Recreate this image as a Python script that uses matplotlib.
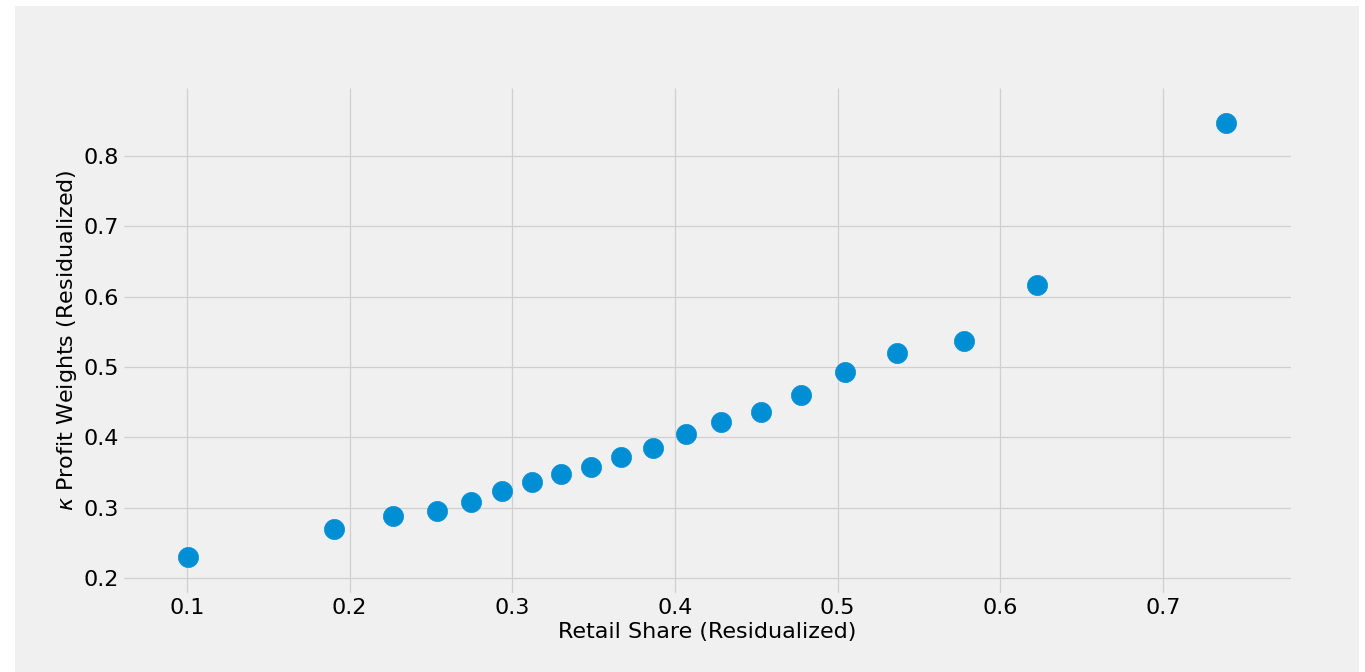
import matplotlib
matplotlib.use("Agg")
from matplotlib import pyplot as plt
from matplotlib.patches import Rectangle

retail_share = [0.1006, 0.1904, 0.2266, 0.2537, 0.2746, 0.2936, 0.3121, 0.3299,
                0.3484, 0.3668, 0.3865, 0.4068, 0.4283, 0.4529, 0.4775, 0.5046,
                0.5365, 0.5777, 0.6227, 0.7387]
kappa = [0.230, 0.2697, 0.2882, 0.2953, 0.308, 0.3237, 0.3365, 0.3479,
         0.3578, 0.372, 0.3848, 0.4048, 0.4218, 0.436, 0.4602, 0.4929,
         0.520, 0.537, 0.6166, 0.847]

plt.style.use("fivethirtyeight")

fig = plt.figure(figsize=(13.65, 6.72), dpi=100, facecolor="white")
# grey canvas with a thin white border, like the original screenshot
fig.patches.append(Rectangle((15 / 1365, 0), 1344 / 1365, 666 / 672,
                             transform=fig.transFigure, facecolor="#f0f0f0",
                             edgecolor="none", zorder=-10))

ax = fig.add_axes([124 / 1365, 1 - 593 / 672, 1167 / 1365, 505 / 672])
ax.set_facecolor("#f0f0f0")
ax.scatter(retail_share, kappa, s=210, color="#008fd5", zorder=3)

ax.set_xlim(0.0613, 0.7787)
ax.set_ylim(0.1787, 0.8967)
ax.set_xticks([0.1, 0.2, 0.3, 0.4, 0.5, 0.6, 0.7])
ax.set_yticks([0.2, 0.3, 0.4, 0.5, 0.6, 0.7, 0.8])
ax.tick_params(labelsize=16)
ax.grid(True, color="#d0d0d0", linewidth=0.9)
for s in ax.spines.values():
    s.set_visible(False)

ax.set_xlabel("Retail Share (Residualized)", fontsize=16, labelpad=3)
ax.set_ylabel(r"$\kappa$ Profit Weights (Residualized)", fontsize=16, labelpad=3)

fig.savefig("out.png", dpi=100, facecolor=fig.get_facecolor())
